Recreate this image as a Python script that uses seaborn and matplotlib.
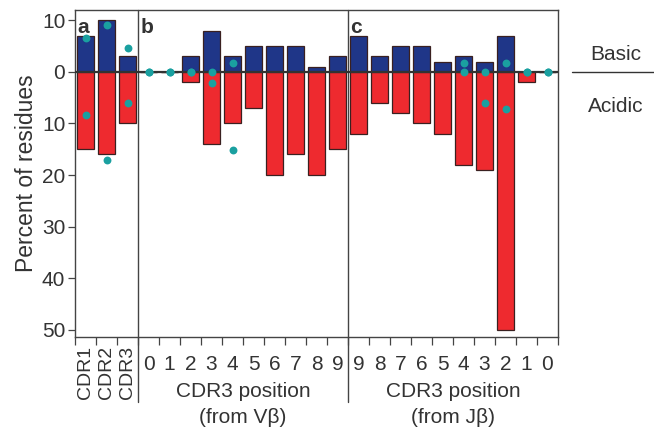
import matplotlib
matplotlib.use('Agg')
import matplotlib.pyplot as plt
import seaborn as sns
import numpy as np
import pandas as pd

# slots: panel a (CDR1-3), panel b (0-9 from Vb), panel c (9-0 from Jb)
keys = ['CDR1', 'CDR2', 'CDR3'] + ['b%d' % i for i in range(10)] + ['c%d' % i for i in range(9, -1, -1)]
tick_labels = ['CDR1', 'CDR2', 'CDR3'] + [str(i) for i in range(10)] + [str(i) for i in range(9, -1, -1)]

basic = [7, 10, 3,
         0, 0, 3, 8, 3, 5, 5, 5, 1, 3,
         7, 3, 5, 5, 2, 3, 2, 7, 0, 0]
acidic = [15, 16, 10,
          0, 0, 2, 14, 10, 7, 20, 16, 20, 15,
          12, 6, 8, 10, 12, 18, 19, 50, 2, 0]

# expected values (dots)
dot_basic = [6.5, 9.0, 4.7,
             0, 0, 0, 0, 1.8, np.nan, np.nan, np.nan, np.nan, np.nan,
             np.nan, np.nan, np.nan, np.nan, np.nan, 1.8, 0, 1.7, 0, 0]
dot_acidic = [8.3, 17.1, 6.1,
              0, 0, 0, 2.1, 15.2, np.nan, np.nan, np.nan, np.nan, np.nan,
              np.nan, np.nan, np.nan, np.nan, np.nan, 0, 6.1, 7.1, 0, 0]

blue = '#1f3688'
red = '#ee2a2f'
teal = '#1aa0a0'
edge = '#3a2020'
fs = 15

df = pd.DataFrame({'key': keys, 'basic': basic, 'acidic': [-v for v in acidic]})

sns.set_style('white')
plt.rcParams['font.family'] = ['Liberation Sans', 'DejaVu Sans']
plt.rcParams['text.color'] = '#333333'
plt.rcParams['xtick.color'] = '#333333'
plt.rcParams['ytick.color'] = '#333333'
plt.rcParams['axes.labelcolor'] = '#333333'

fig = plt.figure(figsize=(6.54, 4.30), dpi=100)
ax = fig.add_axes([75 / 654, 1 - 337 / 430, 483 / 654, 327 / 430])

sns.barplot(data=df, x='key', y='basic', order=keys, color=blue, width=0.85,
            edgecolor=edge, linewidth=0.9, saturation=1, ax=ax)
sns.barplot(data=df, x='key', y='acidic', order=keys, color=red, width=0.85,
            edgecolor=edge, linewidth=0.9, saturation=1, ax=ax)

xpos = np.arange(len(keys))
sns.scatterplot(x=xpos, y=dot_basic, color=teal, s=32, linewidth=0, zorder=5, ax=ax)
sns.scatterplot(x=xpos, y=[-v for v in dot_acidic], color=teal, s=32, linewidth=0, zorder=5, ax=ax)

ax.axhline(0, color='#333333', lw=1.6, zorder=4)

ax.set_xlim(-0.5, len(keys) - 0.5)
ax.set_ylim(-51.4, 12)

# y axis
yt = [10, 0, -10, -20, -30, -40, -50]
ax.set_yticks(yt)
ax.set_yticklabels([str(abs(v)) for v in yt], fontsize=fs)
ax.set_ylabel('Percent of residues', fontsize=16.5, labelpad=3)
ax.tick_params(axis='y', direction='out', length=5, width=0.9, color='#444444', pad=2, left=True)

# x axis: tick marks at slot boundaries, labels at centres
ax.set_xticks(np.arange(-0.5, len(keys), 1))
ax.set_xticklabels([])
ax.tick_params(axis='x', which='major', direction='out', length=6, width=0.9, color='#444444', bottom=True)
ax.set_xticks(xpos, minor=True)
ax.set_xticklabels([''] * 3 + tick_labels[3:], minor=True, fontsize=fs)
ax.tick_params(axis='x', which='minor', length=0, pad=13)
ax.set_xlabel('')

trans = ax.get_xaxis_transform()
for i in range(3):
    ax.text(i, -0.027, tick_labels[i], rotation=90, ha='center', va='top',
            fontsize=14, transform=trans)

# panel separators, extended below axis
for xb in [2.5, 12.5]:
    ax.plot([xb, xb], [-0.2, 1], color='#444444', lw=1, transform=trans, clip_on=False)

ax.text(7.5, -0.168, 'CDR3 position', ha='center', va='center', fontsize=fs, transform=trans)
ax.text(7.5, -0.245, '(from Vβ)', ha='center', va='center', fontsize=fs, transform=trans)
ax.text(17.5, -0.168, 'CDR3 position', ha='center', va='center', fontsize=fs, transform=trans)
ax.text(17.5, -0.245, '(from Jβ)', ha='center', va='center', fontsize=fs, transform=trans)

for xp, lab in [(-0.4, 'a'), (2.6, 'b'), (12.6, 'c')]:
    ax.text(xp, 0.975, lab, fontweight='bold', fontsize=fs, ha='left', va='top',
            transform=trans)

for sp in ax.spines.values():
    sp.set_color('#444444')
    sp.set_linewidth(1)

# basic / acidic key to the right
fig.text(616 / 654, 1 - 54 / 430, 'Basic', ha='center', va='center', fontsize=fs)
fig.text(616 / 654, 1 - 107 / 430, 'Acidic', ha='center', va='center', fontsize=fs)
fig.add_artist(plt.Line2D([572 / 654, 1.0], [1 - 72 / 430, 1 - 72 / 430], color='#333333', lw=1))

fig.savefig('out.png', dpi=100)
